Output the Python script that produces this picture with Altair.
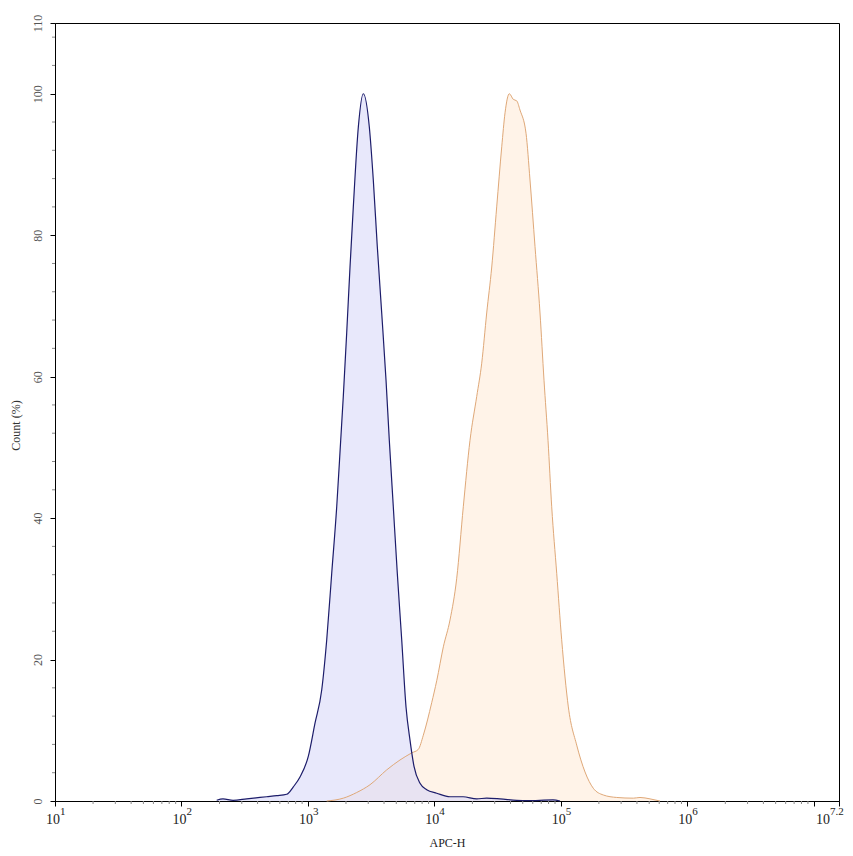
import altair as alt
import pandas as pd

# ---- data (APC-H intensity, Count %) ----
blue_x = [190, 213, 256, 328, 472, 567, 680, 767, 866, 1007, 1138, 1286, 1409, 1543,
          1690, 1817, 1905, 2027, 2153, 2286, 2505, 2742, 3060, 3290, 3538, 3834, 4148,
          4403, 4735, 5093, 5519, 5969, 6418, 6904, 7700, 8698, 10440, 13300, 16860,
          21630, 25940, 33040, 44780, 53700, 86700, 98600]
blue_y = [0.1, 0.3, 0.1, 0.3, 0.6, 0.75, 0.95, 2.0, 3.4, 6.3, 11.0, 15.7, 22.8, 32.2,
          41.6, 51.0, 57.2, 66.2, 75.5, 84.0, 95.3, 100.0, 95.3, 87.8, 78.4, 69.0, 59.5,
          51.0, 41.6, 32.2, 22.8, 13.3, 8.6, 4.9, 2.5, 1.6, 1.1, 0.6, 0.6,
          0.3, 0.4, 0.3, 0.1, 0.05, 0.15, 0.0]

orange_x = [1409, 1905, 2432, 3098, 4200, 5349, 6622, 7465, 8180, 9530, 10440, 11780,
            13300, 15030, 16940, 19140, 21630, 23690, 25940, 28430, 31120, 34110, 36220,
            39170, 42110, 44780, 47550, 53090, 57070, 62520, 68480, 73640, 79230, 84730,
            92820, 101600, 114700, 133600, 155400, 180700, 216800, 276700, 374500,
            423000, 507600, 608800]
orange_y = [0.0, 0.4, 1.2, 2.3, 4.4, 5.8, 6.8, 7.3, 9.3, 13.9, 17.0, 21.8,
            25.6, 31.5, 41.6, 51.0, 57.2, 61.9, 69.0, 75.5, 84.0, 92.5, 97.3,
            100.0, 99.2, 99.0, 97.7, 94.4, 87.8, 78.4, 69.0, 59.5, 51.0, 41.6,
            32.2, 22.8, 13.3, 7.9, 4.1, 1.8, 0.85, 0.5, 0.4,
            0.5, 0.3, 0.0]

y_tick_values = [0, 20, 40, 60, 80, 100, 110]
y_minor_values = [4, 8, 12, 16, 24, 28, 32, 36, 44, 48, 52, 56, 64, 68, 72, 76,
                  84, 88, 92, 96, 104, 108]
x_major_values = [10, 100, 1000, 10000, 100000, 1000000, 10000000, 15848932]
x_label_values = [10, 100, 1000, 10000, 100000, 1000000, 15848932]
x_label_exps = ["1", "2", "3", "4", "5", "6", "7.2"]
x_minor_values = [20, 30, 40, 50, 60, 70, 80, 90,
                  200, 300, 400, 500, 600, 700, 800, 900,
                  2000, 3000, 4000, 5000, 6000, 7000, 8000, 9000,
                  20000, 30000, 40000, 50000, 60000, 70000, 80000, 90000,
                  200000, 300000, 400000, 500000, 600000, 700000, 800000, 900000,
                  2000000, 3000000, 4000000, 5000000, 6000000, 7000000, 8000000, 9000000]

FONT = "Liberation Serif"
W, H = 784, 778

blue_df = pd.DataFrame({"x": blue_x, "y": blue_y})
orange_df = pd.DataFrame({"x": orange_x, "y": orange_y})

xscale = alt.Scale(type="log", domain=[10, 15848932], nice=False)
yscale = alt.Scale(domain=[0, 110], nice=False)

x_axis = alt.Axis(values=x_major_values, labels=False, tickSize=5, tickColor="black",
                  domainColor="black", grid=False, title="APC-H", titleFont=FONT,
                  titleFontSize=12, titleFontWeight="normal", titleColor="#222",
                  titleX=W / 2, titleY=41, titleBaseline="middle")
y_axis = alt.Axis(values=y_tick_values, tickSize=5, tickColor="black", domainColor="black",
                  grid=False, labelAngle=270, labelFont=FONT, labelFontSize=12,
                  labelColor="#555", labelAlign="center", labelBaseline="middle",
                  labelPadding=13, title="Count (%)", titleFont=FONT, titleFontSize=12,
                  titleFontWeight="normal", titleColor="#333", titleAngle=270,
                  titleX=-40, titleY=402, titleBaseline="middle", titleAlign="center")

X = alt.X("x:Q", scale=xscale, axis=x_axis)
Y = alt.Y("y:Q", scale=yscale, axis=y_axis)

orange_area = alt.Chart(orange_df).mark_area(
    color="#fff3e8", opacity=1, interpolate="monotone").encode(x=X, y=Y)
blue_area = alt.Chart(blue_df).mark_area(
    color="#d8d8f8", opacity=0.6, interpolate="monotone").encode(x=X, y=Y)
orange_line = alt.Chart(orange_df).mark_line(
    color="#dfa878", strokeWidth=1, interpolate="monotone").encode(x=X, y=Y)
blue_line = alt.Chart(blue_df).mark_line(
    color="#1c1c6a", strokeWidth=1.2, interpolate="monotone").encode(x=X, y=Y)

# minor ticks
xminor = alt.Chart(pd.DataFrame({"x": x_minor_values})).mark_rule(
    color="#888", strokeWidth=1).encode(
    x=X, y=alt.value(H), y2=alt.value(H + 3),
)
yminor = alt.Chart(pd.DataFrame({"y": y_minor_values})).mark_rule(
    color="#888", strokeWidth=1).encode(
    y=Y, x=alt.value(0), x2=alt.value(-3),
)

# x tick labels: 10 with superscript exponent
lab_df = pd.DataFrame({"x": x_label_values, "exp": x_label_exps})
base_main = alt.Chart(lab_df).transform_filter("datum.x < 10000000").mark_text(
    text="10", align="right", baseline="middle", dx=5, font=FONT, fontSize=14,
    color="#222").encode(x=X, y=alt.value(H + 19))
exp_main = alt.Chart(lab_df).transform_filter("datum.x < 10000000").mark_text(
    align="left", baseline="middle", dx=5, font=FONT, fontSize=11,
    color="#222").encode(x=X, y=alt.value(H + 11), text="exp:N")
base_last = alt.Chart(lab_df).transform_filter("datum.x > 10000000").mark_text(
    text="10", align="right", baseline="middle", dx=-9, font=FONT, fontSize=14,
    color="#222").encode(x=X, y=alt.value(H + 19))
exp_last = alt.Chart(lab_df).transform_filter("datum.x > 10000000").mark_text(
    align="left", baseline="middle", dx=-9, font=FONT, fontSize=11,
    color="#222").encode(x=X, y=alt.value(H + 11), text="exp:N")

chart = alt.layer(
    orange_area, blue_area, orange_line, blue_line, xminor, yminor,
    base_main, exp_main, base_last, exp_last,
).properties(
    width=W, height=H, autosize=alt.AutoSizeParams(type="none"),
    padding={"left": 47, "top": 15, "right": 6, "bottom": 47},
    background="white",
).configure_view(stroke="black", strokeWidth=1)

chart.save("out.html", embed_options={"renderer": "svg", "actions": False})
